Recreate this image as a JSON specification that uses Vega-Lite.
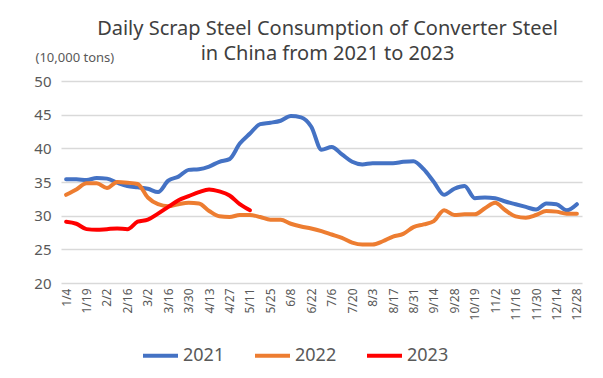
{
  "$schema": "https://vega.github.io/schema/vega-lite/v6.json",
  "autosize": {"type": "none"},
  "width": 521,
  "height": 202,
  "padding": {"left": 61, "top": 81, "right": 21, "bottom": 95},
  "background": "white",
  "config": {
    "font": "Noto Sans",
    "view": {"stroke": null}
  },
  "title": {
    "text": ["Daily Scrap Steel Consumption of Converter Steel", "in China from 2021 to 2023"],
    "fontSize": 20,
    "fontWeight": "normal",
    "color": "#404040",
    "lineHeight": 25,
    "anchor": "middle",
    "dx": 6,
    "offset": -13
  },
  "data": {
    "values": [
      {"d":"1/4","y":"2021","v":35.4},{"d":"1/11","y":"2021","v":35.4},{"d":"1/19","y":"2021","v":35.3},{"d":"1/26","y":"2021","v":35.6},
      {"d":"2/2","y":"2021","v":35.5},{"d":"2/9","y":"2021","v":34.9},{"d":"2/16","y":"2021","v":34.4},{"d":"2/23","y":"2021","v":34.2},
      {"d":"3/2","y":"2021","v":34.0},{"d":"3/9","y":"2021","v":33.5},{"d":"3/16","y":"2021","v":35.2},{"d":"3/23","y":"2021","v":35.8},
      {"d":"3/30","y":"2021","v":36.8},{"d":"4/6","y":"2021","v":36.9},{"d":"4/13","y":"2021","v":37.3},{"d":"4/20","y":"2021","v":38.0},
      {"d":"4/27","y":"2021","v":38.4},{"d":"5/4","y":"2021","v":40.7},{"d":"5/11","y":"2021","v":42.2},{"d":"5/18","y":"2021","v":43.6},
      {"d":"5/25","y":"2021","v":43.8},{"d":"6/1","y":"2021","v":44.1},{"d":"6/8","y":"2021","v":44.8},{"d":"6/15","y":"2021","v":44.6},
      {"d":"6/22","y":"2021","v":43.2},{"d":"6/29","y":"2021","v":39.8},{"d":"7/6","y":"2021","v":40.2},{"d":"7/13","y":"2021","v":39.1},
      {"d":"7/20","y":"2021","v":38.0},{"d":"7/27","y":"2021","v":37.6},{"d":"8/3","y":"2021","v":37.8},{"d":"8/10","y":"2021","v":37.8},
      {"d":"8/17","y":"2021","v":37.8},{"d":"8/24","y":"2021","v":38.0},{"d":"8/31","y":"2021","v":38.1},{"d":"9/7","y":"2021","v":36.9},
      {"d":"9/14","y":"2021","v":35.0},{"d":"9/21","y":"2021","v":33.1},{"d":"9/28","y":"2021","v":34.0},{"d":"10/12","y":"2021","v":34.4},
      {"d":"10/19","y":"2021","v":32.6},{"d":"10/26","y":"2021","v":32.7},{"d":"11/2","y":"2021","v":32.6},{"d":"11/9","y":"2021","v":32.1},
      {"d":"11/16","y":"2021","v":31.7},{"d":"11/23","y":"2021","v":31.3},{"d":"11/30","y":"2021","v":30.9},{"d":"12/7","y":"2021","v":31.8},
      {"d":"12/14","y":"2021","v":31.7},{"d":"12/21","y":"2021","v":30.8},{"d":"12/28","y":"2021","v":31.7},

      {"d":"1/4","y":"2022","v":33.1},{"d":"1/11","y":"2022","v":33.9},{"d":"1/19","y":"2022","v":34.8},{"d":"1/26","y":"2022","v":34.8},
      {"d":"2/2","y":"2022","v":34.1},{"d":"2/9","y":"2022","v":35.0},{"d":"2/16","y":"2022","v":34.9},{"d":"2/23","y":"2022","v":34.7},
      {"d":"3/2","y":"2022","v":32.7},{"d":"3/9","y":"2022","v":31.7},{"d":"3/16","y":"2022","v":31.4},{"d":"3/23","y":"2022","v":31.7},
      {"d":"3/30","y":"2022","v":31.9},{"d":"4/6","y":"2022","v":31.8},{"d":"4/13","y":"2022","v":30.7},{"d":"4/20","y":"2022","v":29.9},
      {"d":"4/27","y":"2022","v":29.8},{"d":"5/4","y":"2022","v":30.1},{"d":"5/11","y":"2022","v":30.1},{"d":"5/18","y":"2022","v":29.8},
      {"d":"5/25","y":"2022","v":29.4},{"d":"6/1","y":"2022","v":29.4},{"d":"6/8","y":"2022","v":28.8},{"d":"6/15","y":"2022","v":28.4},
      {"d":"6/22","y":"2022","v":28.1},{"d":"6/29","y":"2022","v":27.7},{"d":"7/6","y":"2022","v":27.2},{"d":"7/13","y":"2022","v":26.7},
      {"d":"7/20","y":"2022","v":26.0},{"d":"7/27","y":"2022","v":25.7},{"d":"8/3","y":"2022","v":25.7},{"d":"8/10","y":"2022","v":26.2},
      {"d":"8/17","y":"2022","v":26.9},{"d":"8/24","y":"2022","v":27.3},{"d":"8/31","y":"2022","v":28.3},{"d":"9/7","y":"2022","v":28.7},
      {"d":"9/14","y":"2022","v":29.2},{"d":"9/21","y":"2022","v":30.8},{"d":"9/28","y":"2022","v":30.1},{"d":"10/12","y":"2022","v":30.2},
      {"d":"10/19","y":"2022","v":30.2},{"d":"10/26","y":"2022","v":31.1},{"d":"11/2","y":"2022","v":31.9},{"d":"11/9","y":"2022","v":30.8},
      {"d":"11/16","y":"2022","v":29.9},{"d":"11/23","y":"2022","v":29.7},{"d":"11/30","y":"2022","v":30.1},{"d":"12/7","y":"2022","v":30.7},
      {"d":"12/14","y":"2022","v":30.6},{"d":"12/21","y":"2022","v":30.3},{"d":"12/28","y":"2022","v":30.3},

      {"d":"1/4","y":"2023","v":29.1},{"d":"1/11","y":"2023","v":28.8},{"d":"1/19","y":"2023","v":28.0},{"d":"1/26","y":"2023","v":27.9},
      {"d":"2/2","y":"2023","v":28.0},{"d":"2/9","y":"2023","v":28.1},{"d":"2/16","y":"2023","v":28.0},{"d":"2/23","y":"2023","v":29.1},
      {"d":"3/2","y":"2023","v":29.4},{"d":"3/9","y":"2023","v":30.3},{"d":"3/16","y":"2023","v":31.3},{"d":"3/23","y":"2023","v":32.3},
      {"d":"3/30","y":"2023","v":32.9},{"d":"4/6","y":"2023","v":33.5},{"d":"4/13","y":"2023","v":33.9},{"d":"4/20","y":"2023","v":33.6},
      {"d":"4/27","y":"2023","v":33.0},{"d":"5/4","y":"2023","v":31.7},{"d":"5/11","y":"2023","v":30.8}
    ]
  },
  "mark": {"type": "line", "strokeWidth": 4, "interpolate": "monotone", "strokeCap": "round"},
  "encoding": {
    "x": {
      "field": "d",
      "type": "ordinal",
      "sort": null,
      "scale": {"type": "point", "padding": 0.5},
      "axis": {
        "title": null,
        "values": ["1/4","1/19","2/2","2/16","3/2","3/16","3/30","4/13","4/27","5/11","5/25","6/8","6/22","7/6","7/20","8/3","8/17","8/31","9/14","9/28","10/19","11/2","11/16","11/30","12/14","12/28"],
        "labelAngle": -90,
        "labelAlign": "right",
        "labelBaseline": "middle",
        "labelFontSize": 12,
        "labelColor": "#595959",
        "labelPadding": 5,
        "ticks": false,
        "domain": false,
        "grid": false
      }
    },
    "y": {
      "field": "v",
      "type": "quantitative",
      "scale": {"domain": [20, 50], "nice": false, "zero": false},
      "axis": {
        "values": [20, 25, 30, 35, 40, 45, 50],
        "title": "(10,000 tons)",
        "titleAngle": 0,
        "titleAlign": "left",
        "titleBaseline": "middle",
        "titleX": -26,
        "titleY": -24,
        "titleFontSize": 13,
        "titleFontWeight": "normal",
        "titleColor": "#595959",
        "labelFontSize": 15,
        "labelColor": "#595959",
        "labelPadding": 10,
        "ticks": false,
        "domain": false,
        "grid": true,
        "gridColor": "#d9d9d9",
        "gridWidth": 1.5
      }
    },
    "color": {
      "field": "y",
      "type": "nominal",
      "scale": {"domain": ["2021", "2022", "2023"], "range": ["#4472C4", "#ED7D31", "#FF0000"]},
      "legend": {
        "title": null,
        "orient": "none",
        "direction": "horizontal",
        "legendX": 80,
        "legendY": 255,
        "symbolType": "stroke",
        "symbolSize": 1225,
        "symbolStrokeWidth": 4,
        "labelFontSize": 18,
        "labelColor": "#595959",
        "labelOffset": 3,
        "columnPadding": 22
      }
    }
  }
}
